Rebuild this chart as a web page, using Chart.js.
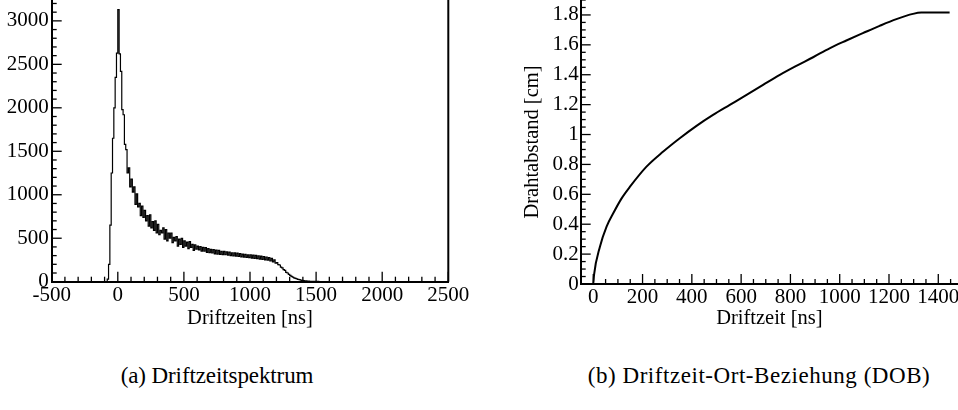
<!DOCTYPE html>
<html><head><meta charset="utf-8">
<script src="https://cdn.jsdelivr.net/npm/chart.js@4"></script>
<style>
html,body{margin:0;padding:0;background:#fff;width:958px;height:410px;overflow:hidden;position:relative}
canvas{position:absolute}
.cap{position:absolute;top:364px;line-height:24px;font-family:"Liberation Serif",serif;font-size:23px;color:#000;white-space:nowrap;transform:translateX(-50%)}
</style></head><body>
<canvas id="c1" width="480" height="360" style="left:0;top:-20px"></canvas>
<canvas id="c2" width="520" height="360" style="left:480px;top:-20px"></canvas>
<div class="cap" style="left:217px;letter-spacing:-0.1px">(a) Driftzeitspektrum</div>
<div class="cap" style="left:759px;letter-spacing:0.55px">(b) Driftzeit-Ort-Beziehung (DOB)</div>
<script>
// ---- (a) Driftzeitspektrum: histogram, 10 ns bins starting at -100 ns ----
const histFirstBinNs = -100;
const histBinWidthNs = 10;
const histCounts = [
  0, 0, 30, 200, 650, 1250, 1650, 2000, 2350, 2630,
  3130, 2620, 2420, 1980, 1920, 1580, 1520, 1250, 1310, 1090,
  1180, 1030, 1090, 890, 1010, 860, 900, 760, 870, 740,
  820, 700, 760, 640, 770, 620, 690, 590, 700, 560,
  660, 540, 590, 560, 620, 490, 600, 470, 560, 500,
  560, 450, 510, 470, 520, 410, 490, 430, 500, 395,
  470, 410, 455, 380, 460, 395, 430, 360, 425, 375,
  410, 365, 405, 352, 395, 350, 392, 338, 380, 335,
  372, 330, 368, 320, 364, 318, 360, 315, 350, 312,
  348, 310, 342, 306, 340, 300, 333, 298, 332, 294,
  328, 290, 322, 286, 318, 283, 314, 279, 310, 276,
  310, 272, 306, 268, 302, 264, 298, 260, 294, 256,
  290, 252, 284, 248, 276, 238, 268, 228, 252, 212,
  220, 196, 192, 168, 160, 140, 130, 108, 100, 84,
  72, 62, 53, 45, 38, 32, 27, 23, 19, 16,
  13, 11, 9, 8, 6, 5, 4, 4, 3, 3,
  2, 3, 2, 2, 1, 2, 1, 1, 1, 0
];
const histXRange = [-500, 2500];
const histYRange = [0, 3240];
const histXTicks = [-500, 0, 500, 1000, 1500, 2000, 2500];
const histYTicks = [0, 500, 1000, 1500, 2000, 2500, 3000];
const histXTitle = 'Driftzeiten [ns]';

// ---- (b) Driftzeit-Ort-Beziehung ----
const dobTimeNs = [-51, 0, 3, 27, 54, 81, 115, 149, 216, 284, 351, 419, 486, 554, 622, 689, 757, 824, 892, 959, 1027, 1094, 1162, 1230, 1297, 1331, 1446];
const dobDistanceCm = [0, 0, 0.06, 0.25, 0.384, 0.473, 0.573, 0.651, 0.785, 0.886, 0.975, 1.058, 1.131, 1.198, 1.265, 1.332, 1.399, 1.459, 1.517, 1.577, 1.629, 1.678, 1.727, 1.772, 1.807, 1.816, 1.816];
const dobXRange = [-51, 1480];
const dobYRange = [0, 1.9];
const dobXTicks = [0, 200, 400, 600, 800, 1000, 1200, 1400];
const dobYTicks = [0, 0.2, 0.4, 0.6, 0.8, 1, 1.2, 1.4, 1.6, 1.8];
const dobXTitle = 'Driftzeit [ns]';
const dobYTitle = 'Drahtabstand [cm]';

const SERIF = '"Liberation Serif", "Times New Roman", serif';
const tickFont = {family: SERIF, size: 21};
const titleFont = {family: SERIF, size: 20.5};

const innerTicks = {
  id: 'innerTicks',
  afterDraw(chart, args, o) {
    const ctx = chart.ctx, a = chart.chartArea;
    const xs = chart.scales.x, ys = chart.scales.y;
    ctx.save();
    ctx.strokeStyle = '#000';
    ctx.lineWidth = 1.3;
    const n0x = Math.ceil(xs.min / o.xMinor - 1e-9), n1x = Math.floor(xs.max / o.xMinor + 1e-9);
    for (let n = n0x; n <= n1x; n++) {
      const p = xs.getPixelForValue(n * o.xMinor);
      const len = (n % o.xEvery === 0) ? 10 : 5;
      ctx.beginPath(); ctx.moveTo(p, a.bottom); ctx.lineTo(p, a.bottom - len); ctx.stroke();
    }
    const n0y = Math.ceil(ys.min / o.yMinor - 1e-9), n1y = Math.floor(ys.max / o.yMinor + 1e-9);
    for (let n = n0y; n <= n1y; n++) {
      const p = ys.getPixelForValue(n * o.yMinor);
      const len = (n % o.yEvery === 0) ? 10 : 5;
      ctx.beginPath(); ctx.moveTo(a.left, p); ctx.lineTo(a.left + len, p); ctx.stroke();
    }
    if (o.rightFrame) {
      ctx.lineWidth = 2;
      ctx.beginPath(); ctx.moveTo(a.right, a.top); ctx.lineTo(a.right, a.bottom); ctx.stroke();
    }
    ctx.restore();
  }
};

function axis(range, tickValues, fmt, extra) {
  return Object.assign({
    type: 'linear', min: range[0], max: range[1],
    grid: {drawOnChartArea: false, drawTicks: false},
    border: {display: true, color: '#000', width: 2},
    afterBuildTicks(s) { s.ticks = tickValues.map(v => ({value: v})); },
  }, extra, {ticks: Object.assign({font: tickFont, color: '#000', maxRotation: 0, autoSkip: false, callback: fmt}, extra.ticks)});
}

// ---------- chart (a) ----------
const histPoints = [{x: histXRange[0], y: 0}];
histCounts.forEach((c, i) => histPoints.push({x: histFirstBinNs + i * histBinWidthNs, y: c}));
histPoints.push({x: histFirstBinNs + histCounts.length * histBinWidthNs, y: 0});
histPoints.push({x: histXRange[1], y: 0});

new Chart(document.getElementById('c1'), {
  type: 'line',
  data: {datasets: [{data: histPoints, borderColor: '#000', borderWidth: 1.2, stepped: true, pointRadius: 0, fill: false}]},
  options: {
    responsive: false, animation: false, devicePixelRatio: 1,
    layout: {padding: {top: 20, right: 31.7, left: 0, bottom: 0}},
    plugins: {legend: {display: false}, tooltip: {enabled: false},
      innerTicks: {xMinor: 100, xEvery: 5, yMinor: 100, yEvery: 5, rightFrame: true}},
    scales: {
      x: axis(histXRange, histXTicks, v => String(v), {
        ticks: {padding: 1},
        title: {display: true, text: histXTitle, font: titleFont, color: '#000', padding: {top: 0, bottom: 9}},
        afterFit(s) { s.height = 58.3; }
      }),
      y: axis(histYRange, histYTicks, v => String(v), {
        ticks: {padding: 3},
        afterFit(s) { s.width = 51.7; }
      })
    }
  },
  plugins: [innerTicks]
});

// ---------- chart (b) ----------
const dobPoints = dobTimeNs.map((t, i) => ({x: t, y: dobDistanceCm[i]}));
new Chart(document.getElementById('c2'), {
  type: 'line',
  data: {datasets: [{data: dobPoints, borderColor: '#000', borderWidth: 2, pointRadius: 0, fill: false, cubicInterpolationMode: 'monotone'}]},
  options: {
    responsive: false, animation: false, devicePixelRatio: 1,
    layout: {padding: {top: 20, right: 42, left: 0, bottom: 0}},
    plugins: {legend: {display: false}, tooltip: {enabled: false},
      innerTicks: {xMinor: 50, xEvery: 4, yMinor: 0.05, yEvery: 4, rightFrame: false}},
    scales: {
      x: axis(dobXRange, dobXTicks, v => String(v), {
        ticks: {padding: 1},
        title: {display: true, text: dobXTitle, font: titleFont, color: '#000', padding: {top: 0, bottom: 9}},
        afterFit(s) { s.height = 56; }
      }),
      y: axis(dobYRange, dobYTicks, v => String(+v.toFixed(2)), {
        ticks: {padding: 2},
        title: {display: true, text: dobYTitle, font: titleFont, color: '#000', padding: {top: 40.7, bottom: 0}},
        afterFit(s) { s.width = 100.7; }
      })
    }
  },
  plugins: [innerTicks]
});
</script>
</body></html>
